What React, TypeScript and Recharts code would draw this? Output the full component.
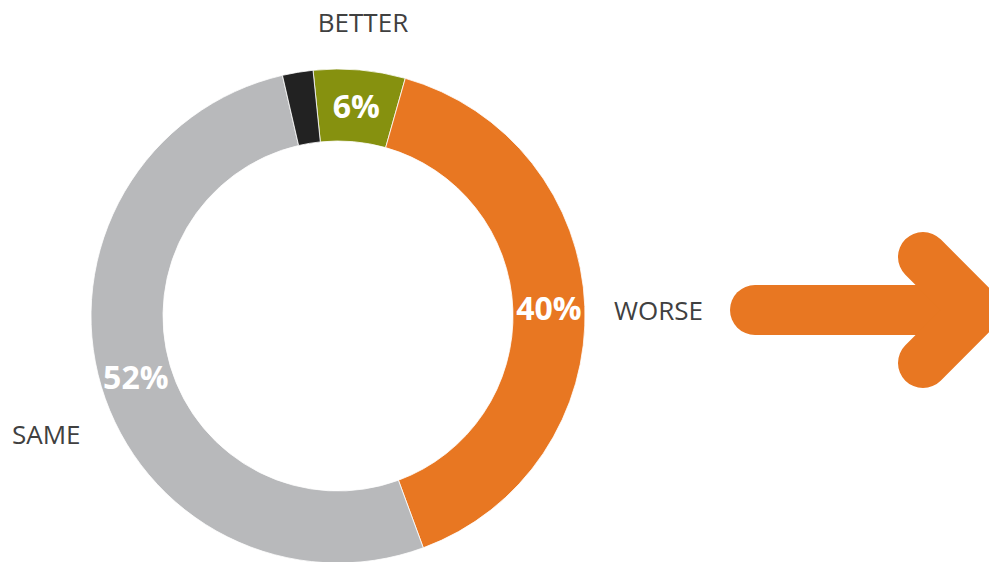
import React from "react";
import { PieChart, Pie, Cell, Customized } from "recharts";

const categories = ["BETTER", "WORSE", "SAME", "OTHER"];
const values = [6, 40, 52, 2];
const valueLabels = ["6%", "40%", "52%", ""];
const colors = ["#86910F", "#E87722", "#B8B9BB", "#222222"];

const data = categories.map((name, i) => ({ name, value: values[i] }));

const FONT = "'Open Sans', 'Noto Sans', sans-serif";
const RAD = Math.PI / 180;

// outer category label layout
const outerLayout: Record<string, { x: number; y: number; anchor: "start" | "middle" | "end" }> = {
  BETTER: { x: 363, y: 22, anchor: "middle" },
  WORSE: { x: 614, y: 310, anchor: "start" },
  SAME: { x: 12, y: 434, anchor: "start" },
};

const renderLabel = (props: any) => {
  const { cx, cy, midAngle, innerRadius, outerRadius, index } = props;
  const r = (innerRadius + outerRadius) / 2;
  const x = cx + r * Math.cos(-midAngle * RAD);
  const y = cy + r * Math.sin(-midAngle * RAD);
  const name = categories[index];
  const outer = outerLayout[name];
  return (
    <g key={`lbl-${index}`}>
      {valueLabels[index] ? (
        <text
          x={x}
          y={y}
          textAnchor="middle"
          dominantBaseline="central"
          fill="#ffffff"
          fontFamily={FONT}
          fontWeight={700}
          fontSize={32}
        >
          {valueLabels[index]}
        </text>
      ) : null}
      {outer ? (
        <text
          x={outer.x}
          y={outer.y}
          textAnchor={outer.anchor}
          dominantBaseline="central"
          fill="#404040"
          fontFamily={FONT}
          fontSize={26}
        >
          {name}
        </text>
      ) : null}
    </g>
  );
};

const Arrow = () => (
  <g>
    <path
      d="M755 310 L976 310"
      stroke="#E87722"
      strokeWidth={50}
      strokeLinecap="round"
      fill="none"
    />
    <path
      d="M923 257 L976 310 L923 363"
      stroke="#E87722"
      strokeWidth={50}
      strokeLinecap="round"
      strokeLinejoin="miter"
      fill="none"
    />
  </g>
);

export default function App() {
  return (
    <div style={{ position: "absolute", left: 0, top: 0, width: 989, height: 562, background: "#fff" }}>
      <PieChart width={989} height={562} margin={{ top: 0, right: 0, bottom: 0, left: 0 }}>
        <Pie
          data={data}
          dataKey="value"
          nameKey="name"
          cx={338}
          cy={316}
          innerRadius={175}
          outerRadius={247}
          startAngle={95.8}
          endAngle={-264.2}
          stroke="#ffffff"
          strokeWidth={0.8}
          label={renderLabel}
          labelLine={false}
          isAnimationActive={false}
        >
          {data.map((d, i) => (
            <Cell key={d.name} fill={colors[i]} />
          ))}
        </Pie>
        <Customized component={Arrow} />
      </PieChart>
    </div>
  );
}
